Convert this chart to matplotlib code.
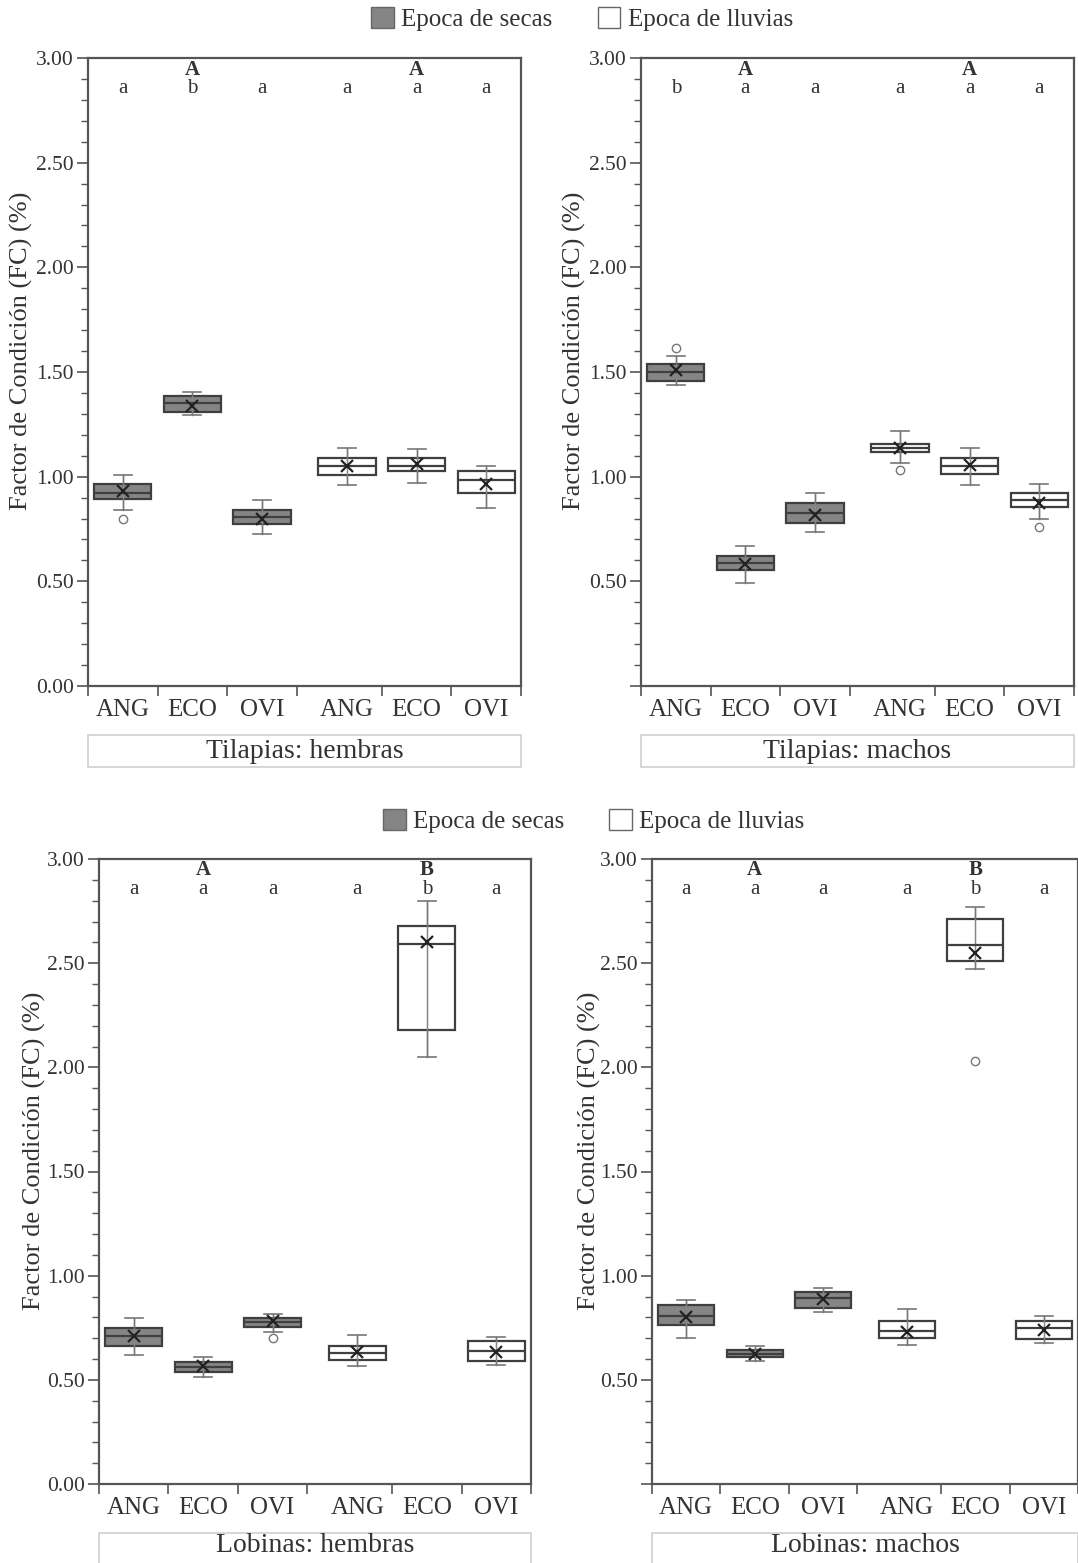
import matplotlib
matplotlib.use("Agg")
import matplotlib.pyplot as plt
from matplotlib.patches import Patch, Rectangle

plt.rcParams['font.family'] = ['Liberation Serif', 'DejaVu Serif']
plt.rcParams['text.color'] = '#333333'
plt.rcParams['axes.labelcolor'] = '#333333'
plt.rcParams['xtick.color'] = '#555555'
plt.rcParams['ytick.color'] = '#555555'
plt.rcParams['xtick.labelcolor'] = '#333333'
plt.rcParams['ytick.labelcolor'] = '#333333'

sites = ['ANG', 'ECO', 'OVI', 'ANG', 'ECO', 'OVI']
seasons = ['secas', 'secas', 'secas', 'lluvias', 'lluvias', 'lluvias']

# Tilapias: hembras
th_q1 = [0.893, 1.309, 0.772, 1.008, 1.027, 0.921]
th_med = [0.920, 1.353, 0.808, 1.050, 1.053, 0.982]
th_q3 = [0.965, 1.386, 0.841, 1.090, 1.090, 1.029]
th_lo = [0.840, 1.293, 0.728, 0.960, 0.968, 0.848]
th_hi = [1.010, 1.405, 0.889, 1.136, 1.130, 1.053]
th_mean = [0.930, 1.338, 0.800, 1.053, 1.060, 0.965]
th_out = [[0.80], [], [], [], [], []]
th_low = ['a', 'b', 'a', 'a', 'a', 'a']
th_up = ['', 'A', '', '', 'A', '']

# Tilapias: machos
tm_q1 = [1.459, 0.554, 0.780, 1.116, 1.013, 0.857]
tm_med = [1.498, 0.586, 0.828, 1.137, 1.051, 0.889]
tm_q3 = [1.538, 0.623, 0.873, 1.158, 1.091, 0.920]
tm_lo = [1.438, 0.494, 0.737, 1.064, 0.962, 0.796]
tm_hi = [1.576, 0.670, 0.920, 1.217, 1.139, 0.963]
tm_mean = [1.510, 0.583, 0.817, 1.135, 1.056, 0.876]
tm_out = [[1.613], [], [], [1.032], [], [0.761]]
tm_low = ['b', 'a', 'a', 'a', 'a', 'a']
tm_up = ['', 'A', '', '', 'A', '']

# Lobinas: hembras
lh_q1 = [0.664, 0.539, 0.752, 0.594, 2.180, 0.589]
lh_med = [0.712, 0.563, 0.776, 0.627, 2.590, 0.637]
lh_q3 = [0.749, 0.587, 0.797, 0.664, 2.680, 0.686]
lh_lo = [0.618, 0.515, 0.731, 0.565, 2.050, 0.573]
lh_hi = [0.797, 0.608, 0.818, 0.717, 2.800, 0.706]
lh_mean = [0.709, 0.568, 0.781, 0.632, 2.600, 0.632]
lh_out = [[], [], [0.699], [], [], []]
lh_low = ['a', 'a', 'a', 'a', 'b', 'a']
lh_up = ['', 'A', '', '', 'B', '']

# Lobinas: machos
lm_q1 = [0.762, 0.608, 0.846, 0.702, 2.510, 0.694]
lm_med = [0.808, 0.624, 0.891, 0.733, 2.585, 0.747]
lm_q3 = [0.858, 0.642, 0.923, 0.781, 2.710, 0.784]
lm_lo = [0.702, 0.589, 0.824, 0.669, 2.470, 0.677]
lm_hi = [0.885, 0.662, 0.941, 0.840, 2.770, 0.808]
lm_mean = [0.803, 0.624, 0.888, 0.728, 2.550, 0.741]
lm_out = [[], [], [], [], [2.03], []]
lm_low = ['a', 'a', 'a', 'a', 'b', 'a']
lm_up = ['', 'A', '', '', 'B', '']

positions = [0.5, 1.5, 2.5, 3.72, 4.72, 5.72]
bounds = [0, 1, 2, 3, 4.22, 5.22, 6.22]
fill = {'secas': '#858585', 'lluvias': 'white'}
edge = '#3f3f3f'


def draw_panel(ax, q1, med, q3, lo, hi, mean, out, low, up, zero_label, label_dx):
    stats = []
    for i in range(len(sites)):
        stats.append(dict(q1=q1[i], med=med[i], q3=q3[i], whislo=lo[i],
                          whishi=hi[i], mean=mean[i], fliers=out[i]))
    ax.vlines(positions, lo, hi, color='#777777', lw=1.0, zorder=1)
    bp = ax.bxp(stats, positions=positions, widths=0.82, patch_artist=True,
                showmeans=True, capwidths=0.26, manage_ticks=False,
                boxprops=dict(edgecolor=edge, linewidth=1.6),
                medianprops=dict(color=edge, linewidth=1.6),
                whiskerprops=dict(color='#777777', linewidth=1.0),
                capprops=dict(color='#777777', linewidth=1.2),
                meanprops=dict(marker='x', markeredgecolor='#222222',
                               markersize=8, markeredgewidth=1.6),
                flierprops=dict(marker='o', markerfacecolor='none',
                                markeredgecolor='#777777', markersize=6))
    for patch, s in zip(bp['boxes'], seasons):
        patch.set_facecolor(fill[s])
        patch.set_zorder(0.5)
    # whisker line visible through the box
    ax.vlines(positions, q1, q3, color='#888888', lw=0.8, zorder=2)

    for x, t in zip(positions, low):
        ax.text(x, 2.855, t, ha='center', va='center', fontsize=15)
    for x, t in zip(positions, up):
        if t:
            ax.text(x, 2.945, t, ha='center', va='center', fontsize=15,
                    fontweight='bold')

    ax.set_xlim(0, 6.22)
    ax.set_ylim(0, 3.0)
    ax.set_xticks(bounds)
    ax.set_xticklabels([''] * len(bounds))
    ax.set_xticks(positions, minor=True)
    ax.set_xticklabels(sites, minor=True, fontsize=18)
    ax.tick_params(axis='x', which='major', direction='out', length=7, width=1.2)
    ax.tick_params(axis='x', which='minor', length=0, pad=9)
    yt = [0, 0.5, 1.0, 1.5, 2.0, 2.5, 3.0]
    ax.set_yticks(yt)
    ylabels = ['%.2f' % v for v in yt]
    if not zero_label:
        ylabels[0] = ''
    ax.set_yticklabels(ylabels, fontsize=15.5)
    ax.set_yticks([v / 10 for v in range(31)], minor=True)
    ax.tick_params(axis='y', which='major', direction='out', length=8, width=1.2, pad=2)
    ax.tick_params(axis='y', which='minor', direction='out', length=5, width=1.0)
    for sp in ax.spines.values():
        sp.set_color('#555555')
        sp.set_linewidth(1.6)
    ax.set_ylabel('Factor de Condición (FC) (%)', fontsize=19)
    w_px = ax.get_position().width * W
    ax.yaxis.set_label_coords(-label_dx / w_px, 0.533)


W, H = 1078, 1563
fig = plt.figure(figsize=(W / 100, H / 100), dpi=100)


def add_axes_px(left, top, right, bottom):
    return fig.add_axes([left / W, 1 - bottom / H, (right - left) / W, (bottom - top) / H])


def group_box(left, top, right, bottom, text, text_y):
    fig.add_artist(Rectangle((left / W, 1 - bottom / H), (right - left) / W, (bottom - top) / H,
                             transform=fig.transFigure, fill=False,
                             edgecolor='#cfcfcf', linewidth=1.2))
    fig.text((left + right) / 2 / W, 1 - text_y / H, text,
             ha='center', va='center', fontsize=20)


ax1 = add_axes_px(88, 58, 521, 686)
draw_panel(ax1, th_q1, th_med, th_q3, th_lo, th_hi, th_mean, th_out, th_low, th_up, True, 55)
ax2 = add_axes_px(641, 58, 1074, 686)
draw_panel(ax2, tm_q1, tm_med, tm_q3, tm_lo, tm_hi, tm_mean, tm_out, tm_low, tm_up, False, 55)
ax3 = add_axes_px(99, 859, 531, 1484)
draw_panel(ax3, lh_q1, lh_med, lh_q3, lh_lo, lh_hi, lh_mean, lh_out, lh_low, lh_up, True, 53)
ax4 = add_axes_px(652, 859, 1078, 1484)
draw_panel(ax4, lm_q1, lm_med, lm_q3, lm_lo, lm_hi, lm_mean, lm_out, lm_low, lm_up, False, 51)

group_box(88, 735, 521, 767, 'Tilapias: hembras', 751)
group_box(641, 735, 1074, 767, 'Tilapias: machos', 751)
group_box(99, 1533, 531, 1575, 'Lobinas: hembras', 1546)
group_box(652, 1533, 1078, 1575, 'Lobinas: machos', 1546)

handles = [Patch(facecolor=fill['secas'], edgecolor='#666666', label='Epoca de secas'),
           Patch(facecolor=fill['lluvias'], edgecolor='#666666', label='Epoca de lluvias')]
for cx, cy in [(582, 19), (594, 821)]:
    fig.legend(handles=handles, loc='center', bbox_to_anchor=(cx / W, 1 - cy / H),
               ncol=2, frameon=False, fontsize=18, handlelength=0.9, handleheight=0.9,
               handletextpad=0.3, columnspacing=1.8)

fig.savefig('out.png', dpi=100)
